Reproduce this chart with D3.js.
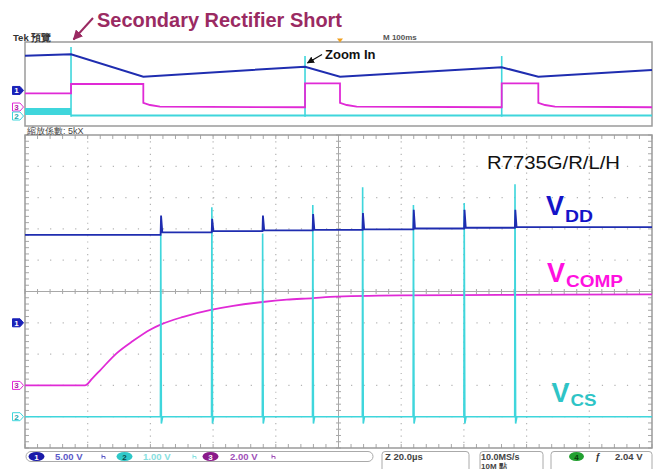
<!DOCTYPE html>
<html><head><meta charset="utf-8">
<script src="https://cdn.jsdelivr.net/npm/d3@7"></script>
<style>html,body{margin:0;padding:0;background:#fff;}svg{display:block;}</style>
</head><body>
<svg id="scope" width="658" height="469"></svg>
<script>
// ---------- Zoomed window (20 µs/div, time in µs around the trigger) ----------
const pulseTimes = [-56.7, -40.4, -24.2, -8.2, 7.7, 23.9, 40.1, 56.3];      // µs
const csPeaks    = [5.85, 6.69, 5.85, 6.76, 7.33, 6.76, 6.83, 7.43];        // V (CH2, 1 V/div)
const csDip      = -0.22;                                                   // V
const vddStart   = 14.06;                                                   // V (CH1, 5 V/div)
const vddLevels  = [14.46, 14.65, 14.78, 14.86, 14.94, 15.06, 15.18, 15.29];// V after each pulse
const vddPeaks   = [17.14, 16.6, 17.14, 17.36, 17.52, 18.05, 18.05, 18.05]; // V
const compTime   = [-100, -80.9, -78.5, -76.1, -70.8, -65.5, -60.1, -56.4, -49.5, -40.7, -33.6, -24.2, -16.5, -8.0, -2.7, 19.6, 51.5, 100];
const compVolt   = [0, 0, 0.45, 0.95, 2.05, 2.85, 3.56, 3.92, 4.38, 4.82, 5.08, 5.33, 5.48, 5.58, 5.66, 5.75, 5.78, 5.81]; // V (CH3, 2 V/div)

// channel settings: volts per division and ground offset (divisions)
const chNames   = ["1", "2", "3"];
const chVdiv    = [5, 1, 2];
const chOffset  = [-1, -4, -3];
const chColors  = ["#1f2db0", "#3fd6dc", "#e02ad6"];

// ---------- Overview record (100 ms/div, time in ms, level in divisions) ----------
const vddOvT  = [0, 73.4, 188.7, 446.6, 502.4, 760.3, 818.7, 1000];
const vddOvL  = [3.37, 3.54, 0.87, 2.06, 0.87, 1.99, 0.87, 1.67];
const compOvT = [0, 73.4, 73.4, 188.7, 188.7, 199.4, 215.3, 446.6, 446.6, 502.4, 502.4, 513.1, 529.0, 760.3, 760.3, 818.7, 818.7, 829.4, 845.3, 1000];
const compOvL = [-1.11, -1.11, 0.0, 0.0, -2.23, -2.50, -2.70, -2.77, 0.08, 0.08, -2.23, -2.50, -2.70, -2.77, 0.08, 0.08, -2.23, -2.50, -2.70, -2.77];
const csOvBandT  = [0, 73.4];
const csOvBandLo = [-3.69, -3.69];
const csOvBandHi = [-2.86, -2.86];
const csOvLineT  = [73.4, 1000];
const csOvLineL  = [-3.75, -3.75];
const csOvSpikeT = [73.4, 446.6, 760.3];
const csOvSpikeTop = [4.40, 3.33, 3.33];
const csOvSpikeBottom = -3.89;
const ovMarkerLevels = [-0.77, -3.81, -2.74]; // CH1, CH2, CH3

// ---------- Texts ----------
const statusChannels = ["5.00 V", "1.00 V", "2.00 V"];
const statusHoriz = "Z 20.0µs";
const statusRate = ["10.0MS/s", "10M 點"];
const triggerLevel = "2.04 V";

const svg = d3.select("#scope");
const FONT = "'Liberation Sans', Arial, sans-serif";

// ---------- scales ----------
const x  = d3.scaleLinear().domain([-100, 100]).range([25, 652]);
const y  = d3.scaleLinear().domain([-5, 5]).range([448, 135]);
const xo = d3.scaleLinear().domain([0, 1000]).range([25, 652]);
const yo = d3.scaleLinear().domain([-5, 5]).range([126, 42]);
const toDiv = (ch, v) => chOffset[ch] + v / chVdiv[ch];

const defs = svg.append("defs");
function arrowMarker(id, color, size) {
  defs.append("marker").attr("id", id).attr("viewBox", "0 0 10 10")
    .attr("refX", 9).attr("refY", 5).attr("markerWidth", size).attr("markerHeight", size)
    .attr("orient", "auto-start-reverse")
    .append("path").attr("d", "M0,0L10,5L0,10z").attr("fill", color);
}
arrowMarker("arrP", "#9a2a62", 5);
arrowMarker("arrK", "#111", 6);

// ---------- overview panel ----------
const ov = svg.append("g");
ov.append("rect").attr("x", 25).attr("y", 42).attr("width", 627).attr("height", 84)
  .attr("fill", "none").attr("stroke", "#9a9a9a").attr("stroke-width", 1.5);

const ovLine = d3.line().x(d => xo(d[0])).y(d => yo(d[1]));
ov.append("path").datum(d3.zip(csOvBandT, csOvBandLo, csOvBandHi))
  .attr("d", d3.area().x(d => xo(d[0])).y0(d => yo(d[1])).y1(d => yo(d[2])))
  .attr("fill", chColors[1]);
ov.append("path").datum(d3.zip(csOvLineT, csOvLineL)).attr("d", ovLine)
  .attr("fill", "none").attr("stroke", chColors[1]).attr("stroke-width", 2);
ov.selectAll("line.ovspike").data(d3.zip(csOvSpikeT, csOvSpikeTop)).join("line")
  .attr("x1", d => xo(d[0])).attr("x2", d => xo(d[0]))
  .attr("y1", d => yo(d[1])).attr("y2", yo(csOvSpikeBottom))
  .attr("stroke", chColors[1]).attr("stroke-width", 1.6);
ov.append("path").datum(d3.zip(compOvT, compOvL)).attr("d", ovLine)
  .attr("fill", "none").attr("stroke", chColors[2]).attr("stroke-width", 1.8);
ov.append("path").datum(d3.zip(vddOvT, vddOvL)).attr("d", ovLine)
  .attr("fill", "none").attr("stroke", chColors[0]).attr("stroke-width", 2);

// trigger position marker
ov.append("path").attr("d", `M${xo(502.4) - 3},38.5h6l-3,4z`).attr("fill", "#f0a020");

// ---------- main graticule ----------
const g = svg.append("g");
const divX = d3.range(-80, 81, 20);
const divY = d3.range(-4, 5, 1);
g.selectAll("line.gv").data(divX.filter(v => v !== 0)).join("line")
  .attr("x1", d => x(d)).attr("x2", d => x(d)).attr("y1", 135).attr("y2", 448)
  .attr("stroke", "#b4b4b4").attr("stroke-width", 1.2).attr("stroke-dasharray", "1.2 5.06");
g.selectAll("line.gh").data(divY.filter(v => v !== 0)).join("line")
  .attr("x1", 25).attr("x2", 652).attr("y1", d => y(d)).attr("y2", d => y(d))
  .attr("stroke", "#b4b4b4").attr("stroke-width", 1.2).attr("stroke-dasharray", "1.2 11.34");
// centre cross-hair with minor ticks
g.append("line").attr("x1", x(0)).attr("x2", x(0)).attr("y1", 135).attr("y2", 448).attr("stroke", "#a8a8a8");
g.append("line").attr("x1", 25).attr("x2", 652).attr("y1", y(0)).attr("y2", y(0)).attr("stroke", "#a8a8a8");
const minorX = d3.range(-100, 100.1, 4);
const minorY = d3.range(-5, 5.01, 0.2);
g.selectAll("line.tx").data(minorX).join("line")
  .attr("x1", d => x(d)).attr("x2", d => x(d)).attr("y1", y(0) - 2.5).attr("y2", y(0) + 2.5).attr("stroke", "#a8a8a8");
g.selectAll("line.ty").data(minorY).join("line")
  .attr("x1", x(0) - 2.5).attr("x2", x(0) + 2.5).attr("y1", d => y(d)).attr("y2", d => y(d)).attr("stroke", "#a8a8a8");
// border ticks
g.selectAll("line.bl").data(minorY).join("line")
  .attr("x1", 25).attr("x2", 29).attr("y1", d => y(d)).attr("y2", d => y(d)).attr("stroke", "#a8a8a8");
g.selectAll("line.br").data(minorY).join("line")
  .attr("x1", 648).attr("x2", 652).attr("y1", d => y(d)).attr("y2", d => y(d)).attr("stroke", "#a8a8a8");
g.selectAll("line.bt").data(minorX).join("line")
  .attr("x1", d => x(d)).attr("x2", d => x(d)).attr("y1", 135).attr("y2", 139).attr("stroke", "#a8a8a8");
g.selectAll("line.bb").data(minorX).join("line")
  .attr("x1", d => x(d)).attr("x2", d => x(d)).attr("y1", 444).attr("y2", 448).attr("stroke", "#a8a8a8");
g.append("rect").attr("x", 25).attr("y", 135).attr("width", 627).attr("height", 313)
  .attr("fill", "none").attr("stroke", "#9a9a9a").attr("stroke-width", 1.5);

// ---------- main traces ----------
const line = d3.line().x(d => x(d[0])).y(d => y(d[1]));

// CH3: VCOMP – soft-start ramp toward its regulated level
g.append("path").datum(d3.zip(compTime, compVolt.map(v => toDiv(2, v))))
  .attr("d", d3.line().x(d => x(d[0])).y(d => y(d[1])).curve(d3.curveMonotoneX))
  .attr("fill", "none").attr("stroke", chColors[2]).attr("stroke-width", 1.8);

// CH2: VCS – flat baseline with narrow current-sense pulses
const csPts = [[-100, 0]];
pulseTimes.forEach((t, i) => {
  csPts.push([t - 0.1, 0], [t, csPeaks[i]], [t + 0.2, csDip], [t + 0.6, 0]);
});
csPts.push([100, 0]);
g.append("path").datum(csPts.map(p => [p[0], toDiv(1, p[1])])).attr("d", line)
  .attr("fill", "none").attr("stroke", chColors[1]).attr("stroke-width", 1.6);

// CH1: VDD – steps up slightly at every switching pulse
const vddPts = [[-100, vddStart]];
let prev = vddStart;
pulseTimes.forEach((t, i) => {
  vddPts.push([t - 0.05, prev], [t + 0.1, vddPeaks[i]], [t + 0.5, vddLevels[i]]);
  prev = vddLevels[i];
});
vddPts.push([100, prev]);
g.append("path").datum(vddPts.map(p => [p[0], toDiv(0, p[1])])).attr("d", line)
  .attr("fill", "none").attr("stroke", chColors[0]).attr("stroke-width", 1.8);

// ---------- channel ground markers ----------
function chMarker(cy, idx) {
  const filled = idx === 0;
  const col = chColors[idx];
  const m = svg.append("g");
  m.append("path").attr("d", `M12.5,${cy - 4}H20L23.5,${cy}L20,${cy + 4}H12.5Z`)
    .attr("fill", filled ? "#1a22b8" : "#fff").attr("stroke", filled ? "#1a22b8" : col).attr("stroke-width", 1);
  m.append("text").attr("x", 16.5).attr("y", cy + 3).attr("text-anchor", "middle")
    .attr("font-family", FONT).attr("font-size", 8).attr("font-weight", "bold")
    .attr("fill", filled ? "#fff" : (idx === 1 ? "#20a8b0" : "#b020a8")).text(chNames[idx]);
}
[0, 2, 1].forEach(i => chMarker(y(chOffset[i]), i));
[0, 2, 1].forEach(i => chMarker(yo(ovMarkerLevels[i]), i));

// ---------- scope texts ----------
svg.append("text").attr("x", 13).attr("y", 40.5).attr("font-family", FONT).attr("font-size", 9.5)
  .attr("font-weight", "bold").attr("fill", "#333").text("Tek 預覽");
svg.append("text").attr("x", 383).attr("y", 39.5).attr("font-family", FONT).attr("font-size", 8)
  .attr("font-weight", "bold").attr("fill", "#555").text("M 100ms");
svg.append("text").attr("x", 27).attr("y", 133.5).attr("font-family", FONT).attr("font-size", 9)
  .attr("fill", "#444").text("縮放係數: 5kX");

// ---------- annotations ----------
svg.append("text").attr("x", 97).attr("y", 26.5).attr("font-family", FONT).attr("font-size", 20.5)
  .attr("font-weight", "bold").attr("fill", "#9a2a62").attr("textLength", 245).attr("lengthAdjust", "spacingAndGlyphs")
  .text("Secondary Rectifier Short");
svg.append("line").attr("x1", 93).attr("y1", 18).attr("x2", 73.5).attr("y2", 39.5)
  .attr("stroke", "#9a2a62").attr("stroke-width", 2).attr("marker-end", "url(#arrP)");
svg.append("text").attr("x", 325).attr("y", 59).attr("font-family", FONT).attr("font-size", 13)
  .attr("font-weight", "bold").attr("fill", "#111").text("Zoom In");
svg.append("line").attr("x1", 322).attr("y1", 54.5).attr("x2", 307.5).attr("y2", 63)
  .attr("stroke", "#111").attr("stroke-width", 1.2).attr("marker-end", "url(#arrK)");

svg.append("text").attr("x", 487).attr("y", 168.5).attr("font-family", FONT).attr("font-size", 17.5)
  .attr("fill", "#111").attr("textLength", 133).attr("lengthAdjust", "spacingAndGlyphs").text("R7735G/R/L/H");

function sigLabel(x0, yBase, ySub, sub, color, subLen) {
  const t = svg.append("g").attr("font-family", FONT).attr("font-weight", "bold").attr("fill", color);
  t.append("text").attr("x", x0).attr("y", yBase).attr("font-size", 27).text("V");
  t.append("text").attr("x", x0 + 19).attr("y", ySub).attr("font-size", 17)
    .attr("textLength", subLen).attr("lengthAdjust", "spacingAndGlyphs").text(sub);
}
sigLabel(546, 215, 221.7, "DD", "#1414c8", 28);
sigLabel(547, 281.7, 286.7, "COMP", "#ff10e0", 57);
sigLabel(551.5, 401.7, 406, "CS", "#2ec4c6", 26);

// ---------- status bar ----------
const sb = svg.append("g").attr("font-family", FONT).attr("font-size", 9.5).attr("font-weight", "bold");
sb.append("rect").attr("x", 26).attr("y", 451.5).attr("width", 347).attr("height", 10).attr("rx", 5)
  .attr("fill", "none").attr("stroke", "#aaa");
const chOvalX = [36.5, 124.5, 210.5];
const chOvalFill = ["#1a1aa8", "#2fc8c8", "#8a1a8a"];
const chTextX = [55, 143, 230];
const chTextFill = ["#5a5ac8", "#86e0e0", "#a050b8"];
const chSymX = [102, 193, 272];
[0, 1, 2].forEach(i => {
  sb.append("ellipse").attr("cx", chOvalX[i]).attr("cy", 456.5).attr("rx", 8).attr("ry", 4.5).attr("fill", chOvalFill[i]);
  sb.append("text").attr("x", chOvalX[i]).attr("y", 459.5).attr("text-anchor", "middle").attr("font-size", 8)
    .attr("fill", i === 1 ? "#0a4a4a" : "#fff").text(chNames[i]);
  sb.append("text").attr("x", chTextX[i]).attr("y", 460).attr("fill", chTextFill[i]).text(statusChannels[i]);
  sb.append("path").attr("d", `M${chSymX[i]},454.5v4M${chSymX[i]},456.5h3v2.5`)
    .attr("fill", "none").attr("stroke", chTextFill[i]).attr("stroke-width", 1);
});
function bracketBox(x0, x1) {
  sb.append("path").attr("d", `M${x0 + 3},469V454.5q0,-3 3,-3H${x1 - 3}q3,0 3,3V469`)
    .attr("fill", "none").attr("stroke", "#aaa");
}
bracketBox(379, 469);
bracketBox(477, 543);
bracketBox(548, 652);
sb.append("text").attr("x", 385).attr("y", 460).attr("fill", "#444").text(statusHoriz);
sb.append("text").attr("x", 481).attr("y", 459.5).attr("font-size", 9).attr("fill", "#444").text(statusRate[0]);
sb.append("text").attr("x", 481).attr("y", 468.5).attr("font-size", 8).attr("fill", "#444").text(statusRate[1]);
sb.append("ellipse").attr("cx", 576.5).attr("cy", 456.5).attr("rx", 7.5).attr("ry", 4.5).attr("fill", "#22a030");
sb.append("text").attr("x", 576.5).attr("y", 459.5).attr("text-anchor", "middle").attr("font-size", 8).attr("fill", "#0a3a0a").text("4");
sb.append("text").attr("x", 595).attr("y", 460).attr("fill", "#333").attr("font-style", "italic").text("ƒ");
sb.append("text").attr("x", 615).attr("y", 460).attr("fill", "#444").text(triggerLevel);
</script>
</body></html>
